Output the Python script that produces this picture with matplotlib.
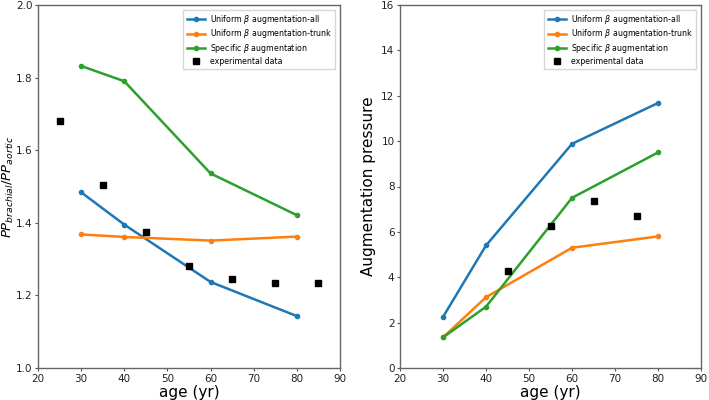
import numpy as np
import matplotlib
matplotlib.use("Agg")
import matplotlib.pyplot as plt

age_model = [30, 40, 60, 80]
age_exp_ratio = [25, 35, 45, 55, 65, 75, 85]
age_exp_ap = [45, 55, 65, 75]

# PP brachial / PP aortic
ratio_all = [1.484, 1.395, 1.237, 1.143]
ratio_trunk = [1.368, 1.361, 1.351, 1.362]
ratio_specific = [1.832, 1.790, 1.536, 1.421]
ratio_exp = [1.680, 1.503, 1.376, 1.281, 1.244, 1.235, 1.235]

# augmentation pressure
ap_all = [2.25, 5.40, 9.88, 11.68]
ap_trunk = [1.35, 3.12, 5.30, 5.80]
ap_specific = [1.35, 2.70, 7.50, 9.50]
ap_exp = [4.27, 6.27, 7.38, 6.68]

labels = [r"Uniform $\beta$ augmentation-all",
          r"Uniform $\beta$ augmentation-trunk",
          r"Specific $\beta$ augmentation",
          "experimental data"]

fig = plt.figure(figsize=(7.09, 4.0), dpi=100)
ax1 = fig.add_axes([38/709, 32/400, 302/709, 363/400])
ax2 = fig.add_axes([400/709, 32/400, 301/709, 363/400])


def draw(ax, a, t, s, xe, e):
    ax.plot(age_model, a, color="#1f77b4", marker="o", ms=3, lw=1.8, label=labels[0])
    ax.plot(age_model, t, color="#ff7f0e", marker="o", ms=3, lw=1.8, label=labels[1])
    ax.plot(age_model, s, color="#2ca02c", marker="o", ms=3, lw=1.8, label=labels[2])
    ax.plot(xe, e, "s", color="black", ms=4, label=labels[3])
    ax.set_xlim(20, 90)
    ax.set_xticks(range(20, 91, 10))
    ax.set_xlabel("age (yr)", fontsize=11, labelpad=1)
    ax.tick_params(labelsize=7.5, length=2.5, pad=1.5, colors="#555555", labelcolor="#222222")
    for sp in ax.spines.values():
        sp.set_color("#666666")
        sp.set_linewidth(1.0)
    ax.legend(loc="upper right", fontsize=5.7, frameon=True, fancybox=False,
              edgecolor="#cccccc", handlelength=2.3, labelspacing=0.2,
              borderaxespad=0.6, borderpad=0.4, handletextpad=0.6)


draw(ax1, ratio_all, ratio_trunk, ratio_specific, age_exp_ratio, ratio_exp)
ax1.set_ylim(1.0, 2.0)
ax1.set_yticks(np.arange(1.0, 2.01, 0.2))
ax1.set_ylabel(r"$PP_{brachial}/PP_{aortic}$", fontsize=9.5, labelpad=0)

draw(ax2, ap_all, ap_trunk, ap_specific, age_exp_ap, ap_exp)
ax2.set_ylim(0, 16)
ax2.set_yticks(range(0, 17, 2))
ax2.set_ylabel("Augmentation pressure", fontsize=11, labelpad=4)

fig.savefig("out.png", dpi=100)
